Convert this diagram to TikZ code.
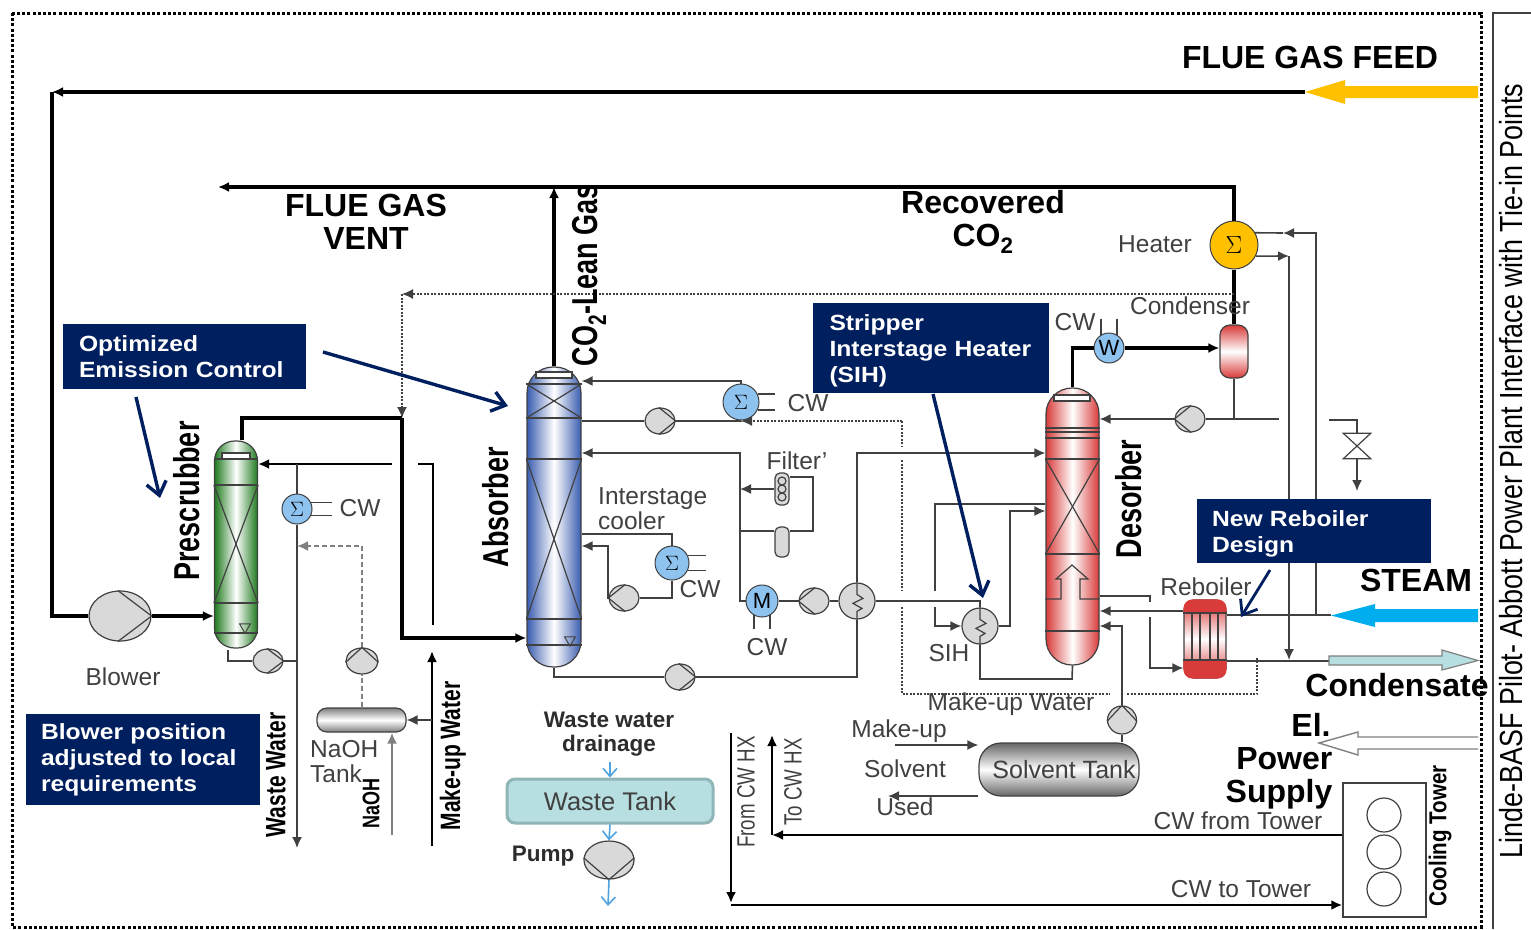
\documentclass[tikz,border=0pt]{standalone}
\usepackage{fontspec}
\setmainfont{Liberation Sans}
\newfontfamily\wideFont[FakeStretch=1.12]{Liberation Sans}
\newfontfamily\narrowFont[FakeStretch=0.75]{Liberation Sans}
\newfontfamily\titleFont[FakeStretch=0.84]{Liberation Sans}
\usepackage{xcolor}
\usepackage{tikz}
\usetikzlibrary{arrows.meta, shapes.geometric}
\definecolor{navyBg}{HTML}{001F5F}
\definecolor{pipeGray}{HTML}{404040}
\definecolor{labelGray}{HTML}{404040}
\definecolor{bodyGray}{HTML}{D9D9D9}
\definecolor{coolerBlue}{HTML}{8EC3F0}
\definecolor{heaterYellow}{HTML}{FFC000}
\definecolor{steamBlue}{HTML}{00AEEF}
\definecolor{tankTeal}{HTML}{B7DEE0}
\definecolor{tankEdge}{HTML}{8FB5B7}
\definecolor{drainBlue}{HTML}{4FA3E0}
\definecolor{scrubGreen}{HTML}{1F7A1F}
\definecolor{absorbBlue}{HTML}{3A5DB0}
\definecolor{desorbRed}{HTML}{D93A3A}
\tikzset{
    mainPipe/.style={line width=3.4pt, black},
    midPipe/.style={line width=2.4pt, black},
    pipe/.style={line width=1.6pt, pipeGray},
    dotPipe/.style={line width=1.3pt, pipeGray, dash pattern=on 2pt off 1.5pt},
    dashGrayPipe/.style={line width=2pt, gray, dash pattern=on 5pt off 3pt},
    navyArrow/.style={line width=3.4pt, navyBg, -{Straight Barb[length=13pt,width=20pt]}},
    drainArrow/.style={line width=1.6pt, drainBlue, -{Straight Barb[length=8pt,width=14pt]}},
    colBody/.style={draw=pipeGray, line width=1.2pt, inner sep=0pt, left color=#1, right color=#1, middle color=white},
    drumBody/.style={draw=pipeGray, line width=1.2pt, inner sep=0pt, top color=#1, bottom color=#1, middle color=white},
    pumpBody/.style={ellipse, draw=pipeGray, line width=1.2pt, fill=bodyGray, inner sep=0pt},
    coolerBody/.style={circle, draw=pipeGray, line width=1pt, fill=coolerBlue, inner sep=0pt, minimum size=#1pt, font=\fontsize{22}{22}\selectfont},
    trayLine/.style={line width=1.2pt, pipeGray},
    callout/.style={fill=navyBg, text=white, inner sep=0pt, align=left, font=\wideFont\bfseries\fontsize{22}{26}\selectfont},
    lbl/.style={text=labelGray, inner sep=0pt, font=\fontsize{24.5}{25}\selectfont, align=left},
    headBold/.style={text=black, inner sep=0pt, align=center, font=\bfseries\fontsize{32}{33}\selectfont},
    smallBold/.style={text=labelGray!70!black, inner sep=0pt, align=center, font=\bfseries\fontsize{22.5}{24}\selectfont},
    sideBold/.style={rotate=90, text=black, inner sep=0pt, font=\narrowFont\bfseries\fontsize{#1}{#1}\selectfont},
    sideThin/.style={rotate=90, text=labelGray, inner sep=0pt, font=\narrowFont\fontsize{#1}{#1}\selectfont}
}
\newcommand{\pump}[6]{
    \node[pumpBody, minimum width=#4pt, minimum height=#5pt] (#1) at (#2,#3) {};
    \pgfmathtruncatemacro{\pumpA}{#6+95}
    \pgfmathtruncatemacro{\pumpB}{#6+265}
    \draw[trayLine] (#1.#6) -- (#1.\pumpA);
    \draw[trayLine] (#1.#6) -- (#1.\pumpB);
}
\newcommand{\exchanger}[3]{
    \node[circle, draw=pipeGray, line width=1.2pt, fill=bodyGray, minimum size=36pt, inner sep=0pt] (#1) at (#2,#3) {};
    \draw[trayLine] (#1.north) -- ++(0,12) -- ++(6,4) -- ++(-10,5) -- ++(9,5) -- ++(-5,3) -- (#1.south);
}
\newcommand{\tray}[2]{\draw[trayLine] (#1.west |- 0,#2) -- (#1.east |- 0,#2);}
\newcommand{\packing}[3]{
    \tray{#1}{#2}
    \tray{#1}{#3}
    \draw[trayLine] (#1.west |- 0,#2) -- (#1.east |- 0,#3);
    \draw[trayLine] (#1.east |- 0,#2) -- (#1.west |- 0,#3);
}
\begin{document}
\begin{tikzpicture}[x=1pt, y=-1pt, >={Latex[length=11pt,width=10pt]}]
    \useasboundingbox (0,0) rectangle (1531,929);

    \draw[black, line width=3pt, dash pattern=on 3pt off 2.2pt] (12,13) rectangle (1481,927);
    \draw[pipeGray, line width=1.2pt] (1531,13) -- (1493,13) -- (1493,929);
    \node[rotate=90, inner sep=0pt, text=black, font=\titleFont\fontsize{32}{32}\selectfont] (plantTitle) at (1511,471) {Linde-BASF Pilot- Abbott Power Plant Interface with Tie-in Points};

    \foreach \name/\x/\y in {feedStart/1305/92, feedCorner/52/92, ventEnd/218/187, returnStart/1234/294, returnCorner/402/294, gasJunction/402/418,
        absorberFeed/402/638, scrubDrain/228/650, scrubReflux/392/464, makeupBend/418/464, makeupCorner/433/464, makeupEnd/433/625,
        wasteTop/297/464, wasteEnd/297/848, dosePoint/297/546, makeupBottom/432/846, makeupTop/432/651, naohIn/392/835,
        absTop/741/381, dotTee/902/421, dotGapA/902/447, dotGapB/902/460, dotGapC/902/591, dotGapD/902/607, dotLow/902/694,
        dotGapE/1110/694, dotGapF/1127/694, dotCorner/1257/694, dotEnd/1257/658,
        leanCorner/740/453, filterTap/740/531, loopLow/813/531, loopHigh/813/477, interTap/672/534, interRet/608/546,
        richFeed/1044/453, sihIn/935/607, sihLoopLow/935/591, sihLoopTop/935/504, sihOut/1010/511, desorberDrain/1072/679,
        refluxEnd/1279/419, steamTee/1316/615, heatRet/1283/233, heatOut/1289/256, condTee/1289/660, valveIn/1329/420, valveEnd/1357/491,
        reboilOut/1150/596, reboilGapA/1150/602, reboilGapB/1150/617, reboilIn/1150/668, reboilTop/1205/611, solventIn/1122/626,
        steamEnd/1331/615, condStart/1329/661, makeIn/895/745, usedOut/888/796,
        cwFromTip/772/835, cwFromEnd/772/735, cwToTop/731/733, cwToTip/731/903, cwToLow/731/905, drainIn/610/762, pumpOut/608/906,
        emissionTail/323/352, emissionTip/508/406, scrubTail/136/397, scrubTip/160/498, sihTail/933/394, sihTip/983/598, reboilTail/1270/570, reboilTip/1241/617}
        {\coordinate (\name) at (\x,\y);}

    \node[colBody=scrubGreen, rounded corners=20pt, minimum width=43pt, minimum height=207pt] (prescrubber) at (236,544.5) {};
    \tray{prescrubber}{459}
    \packing{prescrubber}{485}{603}
    \tray{prescrubber}{633}
    \draw[trayLine, fill=white] (222,453) rectangle (250,459);
    \node[regular polygon, regular polygon sides=3, shape border rotate=180, draw=pipeGray, line width=1pt, inner sep=2.2pt] (scrubLevel) at (245,627) {};

    \node[colBody=absorbBlue, rounded corners=26pt, minimum width=54pt, minimum height=300pt] (absorber) at (554,517) {};
    \draw[trayLine, fill=white] (536,372) rectangle (572,378);
    \packing{absorber}{384}{418}
    \packing{absorber}{459}{619}
    \tray{absorber}{645}
    \node[regular polygon, regular polygon sides=3, shape border rotate=180, draw=pipeGray, line width=1pt, inner sep=2.2pt] (absLevel) at (570,640) {};

    \node[colBody=desorbRed, rounded corners=26pt, minimum width=53pt, minimum height=277pt] (desorber) at (1072.5,526.5) {};
    \draw[trayLine, fill=white] (1054,395) rectangle (1090,401);
    \foreach \y in {428,432,438} {\tray{desorber}{\y}}
    \packing{desorber}{459}{554}
    \tray{desorber}{631}
    \draw[trayLine] (desorber.west |- 0,599) -- (1061,599) -- (1061,579) -- (1056,579) -- (1072,565) -- (1088,579) -- (1080,579) -- (1080,599) -- (desorber.east |- 0,599);

    \pump{blower}{120}{616}{62}{50}{0}
    \pump{scrubPump}{268}{661}{30}{24}{0}
    \pump{naohPump}{362}{661}{32}{26}{90}
    \pump{absPump}{660}{421}{30}{26}{0}
    \pump{interPump}{624}{598}{30}{26}{180}
    \pump{richPump}{814}{601}{30}{26}{180}
    \pump{bottomPump}{680}{677}{30}{26}{0}
    \pump{refluxPump}{1190}{419}{30}{26}{180}
    \pump{solventPump}{1122}{720}{29}{28}{90}
    \pump{wastePump}{609}{860}{50}{38}{270}
    \exchanger{leanHx}{857}{601}
    \exchanger{sihHx}{980}{626}

    \node[coolerBody=30] (scrubCooler) at (297,509) {$\Sigma$};
    \node[coolerBody=36] (absCooler) at (741,402) {$\Sigma$};
    \node[coolerBody=34] (interCooler) at (672,563) {$\Sigma$};
    \node[coolerBody=32] (leanCooler) at (762,601) {M};
    \node[coolerBody=30] (topCooler) at (1109,348) {W};
    \node[coolerBody=48, fill=heaterYellow, font=\fontsize{44}{44}\selectfont] (heater) at (1234,245) {$\Sigma$};

    \node[drumBody=desorbRed, rounded corners=10pt, minimum width=28pt, minimum height=53pt] (condenser) at (1234,351.5) {};
    \node[drumBody=gray, rounded corners=10pt, minimum width=89pt, minimum height=24pt] (naohTank) at (361.5,720) {};
    \node[drumBody=gray!80!black, rounded corners=22pt, minimum width=160pt, minimum height=53pt, font=\fontsize{25}{25}\selectfont, text=labelGray] (solventTank) at (1059,769.5) {\hspace*{10pt}Solvent Tank};
    \node[draw=tankEdge, line width=3pt, fill=tankTeal, rounded corners=8pt, minimum width=206pt, minimum height=44pt, inner sep=0pt, font=\fontsize{25.5}{25}\selectfont, text=labelGray] (wasteTank) at (610,801) {Waste Tank};
    \node[draw=pipeGray, line width=1.2pt, fill=bodyGray, rounded corners=5pt, minimum width=14pt, minimum height=32pt, inner sep=0pt] (filterTop) at (782,489) {};
    \foreach \y in {481,489,497} {\draw[trayLine] (782,\y) circle (4pt);}
    \node[draw=pipeGray, line width=1.2pt, fill=bodyGray, rounded corners=5pt, minimum width=14pt, minimum height=30pt, inner sep=0pt] (filterBot) at (782,542) {};
    \node[drumBody=desorbRed, rounded corners=10pt, minimum width=42pt, minimum height=78pt] (reboiler) at (1205,639) {};
    \fill[desorbRed, rounded corners=9pt] (reboiler.west |- 0,613) -- (reboiler.north west) -- (reboiler.north east) [sharp corners] -- (reboiler.east |- 0,613) -- cycle;
    \fill[desorbRed, rounded corners=9pt] (reboiler.west |- 0,660) -- (reboiler.south west) -- (reboiler.south east) [sharp corners] -- (reboiler.east |- 0,660) -- cycle;
    \foreach \x in {1192,1200,1210,1218} {\draw[trayLine] (\x,613) -- (\x,660);}
    \tray{reboiler}{613}
    \tray{reboiler}{660}
    \node[minimum width=27pt, minimum height=25pt, inner sep=0pt] (valve) at (1357,446) {};
    \draw[trayLine] (valve.north west) -- (valve.north east) -- (valve.south west) -- (valve.south east) -- cycle;
    \node[draw=pipeGray, line width=1.4pt, minimum width=83pt, minimum height=134pt, inner sep=0pt] (tower) at (1384.5,850) {};
    \foreach \i/\y in {1/815, 2/852, 3/889}
        {\node[circle, draw=pipeGray, line width=1.2pt, minimum size=34pt, inner sep=0pt] (fan\i) at (1384,\y) {};}

    \fill[heaterYellow] (1478,86) -- (1345,86) -- (1345,80) -- (1305,92) -- (1345,104) -- (1345,98) -- (1478,98) -- cycle;
    \draw[mainPipe, ->] (feedStart) -- (feedCorner);
    \draw[mainPipe] (feedCorner) |- (blower.west);
    \draw[mainPipe, ->] (blower.east) -- (prescrubber.west |- blower);
    \draw[mainPipe, ->] (heater.north) |- (ventEnd);
    \draw[mainPipe, ->] (absorber.north) -- (absorber.north |- ventEnd);
    \draw[mainPipe] (heater.south) -- (condenser.north);
    \draw[dotPipe, ->] (returnStart) -- (returnCorner);
    \draw[dotPipe, ->] (returnCorner) -- (gasJunction);
    \draw[mainPipe] ([xshift=6pt]prescrubber.north) |- (gasJunction);
    \draw[mainPipe, ->] (gasJunction) |- (absorber.west |- absorberFeed);

    \draw[midPipe, ->] (scrubReflux) -- (prescrubber.east |- scrubReflux);
    \draw[midPipe] (makeupBend) -- (makeupCorner) -- (makeupEnd);
    \draw[pipe] (wasteTop) -- (scrubCooler.north);
    \draw[pipe, ->] (scrubCooler.south) -- (wasteEnd);
    \draw[pipe] (scrubCooler.25) -- ++(21,0);
    \draw[pipe] (scrubCooler.-25) -- ++(21,0);
    \draw[pipe] (scrubDrain) |- (scrubPump.west);
    \draw[pipe] (scrubPump.east) -- (wasteTop |- scrubPump);
    \draw[dashGrayPipe] (naohTank.north -| naohPump) -- (naohPump.south);
    \draw[dashGrayPipe, ->] (naohPump.north) |- (dosePoint);
    \draw[midPipe, ->] (makeupBottom) -- (makeupTop);
    \draw[pipe, ->] (makeupBottom |- naohTank) -- (naohTank.east);
    \draw[midPipe, gray, ->] (naohIn) -- (naohIn |- naohTank.south);

    \draw[pipe, ->] (absCooler.north) |- (absorber.east |- absTop);
    \draw[pipe] (absCooler.25) -- ++(17,0);
    \draw[pipe] (absCooler.-25) -- ++(17,0);
    \draw[pipe] (absorber.east |- absPump) -- (absPump.west);
    \draw[pipe] (absPump.east) -- (absCooler.south |- absPump);
    \draw[pipe] (absCooler.south) -- (absCooler.south |- dotTee);
    \draw[dotPipe, ->] (dotTee) -- (absCooler.south |- dotTee);
    \draw[dotPipe] (dotTee) -- (dotGapA);
    \draw[dotPipe] (dotGapB) -- (dotGapC);
    \draw[dotPipe] (dotGapD) -- (dotLow) -- (dotGapE);
    \draw[dotPipe] (dotGapF) -- (dotCorner) -- (dotEnd);

    \draw[pipe, ->] (leanCooler.west) -| (leanCorner) -- (absorber.east |- leanCorner);
    \draw[pipe, ->] (filterTop.west) -- (leanCorner |- filterTop);
    \draw[pipe] (filterTap) -- (filterBot.west |- filterTap);
    \draw[pipe] (filterBot.east |- loopLow) -- (loopLow) -- (loopHigh) -- (filterTop.east |- loopHigh);
    \draw[pipe] (absorber.east |- interTap) -| (interCooler.north);
    \draw[pipe] (interCooler.25) -- ++(18,0);
    \draw[pipe] (interCooler.-25) -- ++(18,0);
    \draw[pipe] (interCooler.south) |- (interPump.east);
    \draw[pipe, ->] (interPump.west) -| (interRet) -- (absorber.east |- interRet);
    \draw[pipe] (leanCooler.240) -- ++(0,14);
    \draw[pipe] (leanCooler.300) -- ++(0,14);
    \draw[pipe] (leanCooler.east) -- (richPump.west);
    \draw[pipe] (richPump.east) -- (leanHx.west);
    \draw[pipe] (leanHx.east) -| (sihHx.north);
    \draw[pipe] (absorber.south) |- (bottomPump.west);
    \draw[pipe] (bottomPump.east) -| (leanHx.south);
    \draw[pipe, ->] (leanHx.north) |- (desorber.west |- richFeed);

    \draw[pipe, ->] (sihIn) |- (sihHx.west);
    \draw[pipe] (sihLoopLow) -- (sihLoopTop) -- (desorber.west |- sihLoopTop);
    \draw[pipe, ->] (sihHx.east) -| (sihOut) -- (desorber.west |- sihOut);
    \draw[pipe] (sihHx.south) |- (desorberDrain) -- (desorber.south);
    \draw[mainPipe] (desorber.north) |- (topCooler.west);
    \draw[mainPipe, ->] (topCooler.east) -- (condenser.west |- topCooler);
    \draw[pipe] (topCooler.120) -- ++(0,-16);
    \draw[pipe] (topCooler.60) -- ++(0,-16);
    \draw[pipe] (condenser.south) -- (condenser.south |- refluxPump);
    \draw[pipe] (refluxEnd) -- (refluxPump.east);
    \draw[pipe, ->] (refluxPump.west) -- (desorber.east |- refluxPump);

    \draw[pipe, ->] (steamTee) |- (heatRet);
    \draw[pipe] (heatRet) -- (heater.30);
    \draw[pipe, ->] (heater.-27) -- (heatOut);
    \draw[pipe, ->] (heatOut) -- (condTee);
    \draw[pipe] (valveIn) -| (valve.north);
    \draw[pipe, ->] (valve.south) -- (valveEnd);
    \draw[pipe, ->] (reboiler.west |- reboilTop) -- (desorber.east |- reboilTop);
    \draw[pipe] (desorber.east |- reboilOut) -- (reboilOut) -- (reboilGapA);
    \draw[pipe, ->] (reboilGapB) |- (reboiler.west |- reboilIn);
    \draw[pipe, ->] (solventPump.north) |- (desorber.east |- solventIn);
    \draw[pipe] (solventPump.south) -- (solventPump |- solventTank.north);
    \draw[pipe, ->] (makeIn) -- (solventTank.west |- makeIn);
    \draw[pipe, ->] (solventTank.west |- usedOut) -- (usedOut);

    \draw[pipe] (reboiler.east |- steamEnd) -- (steamEnd);
    \draw[pipe] (reboiler.east |- condStart) -- (condStart);
    \fill[steamBlue] (1478,609) -- (1375,609) -- (1375,604) -- (1331,615.5) -- (1375,627) -- (1375,622) -- (1478,622) -- cycle;
    \draw[gray, line width=1.2pt, fill=tankTeal] (1329,656) -- (1442,656) -- (1442,650) -- (1478,660.5) -- (1442,670) -- (1442,665) -- (1329,665) -- cycle;
    \draw[gray, line width=1.4pt, fill=white] (1478,737) -- (1358,737) -- (1358,732) -- (1319,743) -- (1358,755) -- (1358,749) -- (1478,749);

    \draw[midPipe, ->] (tower.west |- cwFromTip) -- (cwFromTip);
    \draw[midPipe, ->] (cwFromTip) -- (cwFromEnd);
    \draw[midPipe, ->] (cwToTop) -- (cwToTip);
    \draw[midPipe, ->] (cwToLow) -- (tower.west |- cwToLow);

    \draw[drainArrow] (drainIn) -- (wasteTank.north);
    \draw[drainArrow] (wasteTank.south) -- (wastePump.north);
    \draw[drainArrow] (wastePump.south) -- (pumpOut);

    \node[callout, minimum width=243pt, minimum height=65pt, text width=211pt] (emissionBox) at (184.5,356.5) {Optimized\\Emission Control};
    \node[callout, minimum width=234pt, minimum height=91pt, text width=204pt] (blowerBox) at (143,759.5) {Blower position\\adjusted to local\\requirements};
    \node[callout, minimum width=236pt, minimum height=90pt, text width=202pt] (stripperBox) at (930.5,347.5) {\rule{0pt}{22pt}Stripper\\Interstage Heater\\(SIH)};
    \node[callout, minimum width=234pt, minimum height=64pt, text width=204pt] (reboilerBox) at (1314,531) {\rule{0pt}{22pt}New Reboiler\\Design};
    \draw[navyArrow] (emissionTail) -- (emissionTip);
    \draw[navyArrow] (scrubTail) -- (scrubTip);
    \draw[navyArrow] (sihTail) -- (sihTip);
    \draw[navyArrow, line width=2.8pt] (reboilTail) -- (reboilTip);

    \node[headBold] (feedText) at (1310,57) {FLUE GAS FEED};
    \node[headBold] (ventText) at (366,222) {FLUE GAS\\VENT};
    \node[headBold] (co2Text) at (983,222) {Recovered\\CO\textsubscript{2}};
    \node[headBold] (steamText) at (1416,580) {STEAM};
    \node[headBold] (condText) at (1397,685) {Condensate};
    \node[headBold] (elText) at (1311,725) {El.};
    \node[headBold, align=right] (powerText) at (1279,778) {Power\\Supply};
    \node[sideBold=36] (scrubText) at (187,501) {Prescrubber};
    \node[sideBold=36] (absText) at (496,507) {Absorber};
    \node[sideBold=36] (desText) at (1129,499) {Desorber};
    \node[sideBold=36] (leanText) at (589,275) {CO\textsubscript{2}-Lean Gas};
    \node[sideBold=28] (wasteText) at (276,775) {Waste Water};
    \node[sideBold=24] (naohText) at (371,803) {NaOH};
    \node[sideBold=28] (makeText) at (453,756) {Make-up Water};
    \node[sideBold=28, font=\titleFont\bfseries\fontsize{24.5}{25}\selectfont] (towerText) at (1440,836) {Cooling Tower};
    \node[sideThin=25] (fromText) at (746,792) {From CW HX};
    \node[sideThin=25] (toText) at (793,782) {To CW HX};
    \node[smallBold] (drainText) at (609,734) {Waste water\\drainage};
    \node[smallBold] (pumpText) at (543,856) {Pump};

    \node[lbl] (blowerText) at (123,677) {Blower};
    \node[lbl] (cwTextA) at (360,508) {CW};
    \node[lbl, anchor=west] (tankText) at (310,761.5) {NaOH\\Tank};
    \node[lbl] (cwTextB) at (808,403) {CW};
    \node[lbl] (filterText) at (797,461) {Filter'};
    \node[lbl, anchor=west] (interText) at (598,509) {Interstage\\cooler};
    \node[lbl] (cwTextC) at (700,589) {CW};
    \node[lbl] (cwTextD) at (767,647) {CW};
    \node[lbl] (sihText) at (949,653) {SIH};
    \node[lbl] (waterText) at (1011,704) {Make-up Water};
    \node[lbl] (makeupText) at (899,731) {Make-up};
    \node[lbl] (solventText) at (905,769) {Solvent};
    \node[lbl] (usedText) at (905,807) {Used};
    \node[lbl] (heaterText) at (1155,244) {Heater};
    \node[lbl] (condenserText) at (1190,306) {Condenser};
    \node[lbl] (cwTextE) at (1075,322) {CW};
    \node[lbl] (reboilerText) at (1206,587) {Reboiler};
    \node[lbl] (cwFromText) at (1238,821) {CW from Tower};
    \node[lbl] (cwToText) at (1241,889) {CW to Tower};
\end{tikzpicture}
\end{document}
